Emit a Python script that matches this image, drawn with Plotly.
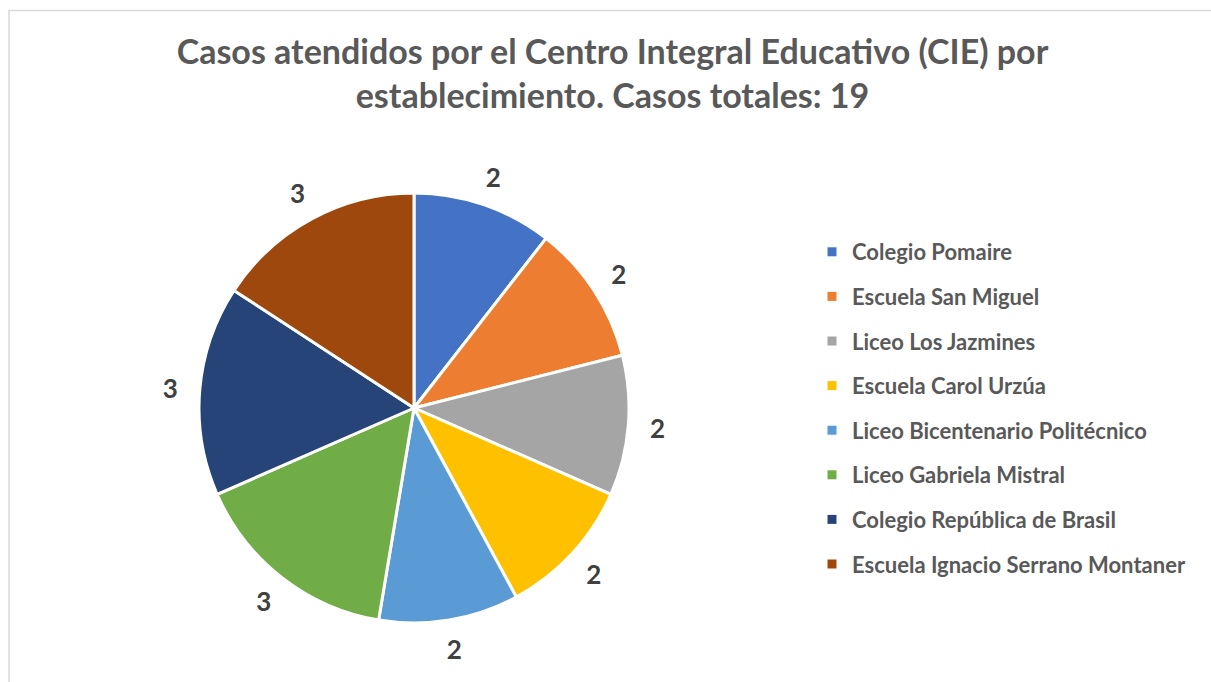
import plotly.graph_objects as go

# ---- data ----
categories = [
    "Colegio Pomaire",
    "Escuela San Miguel",
    "Liceo Los Jazmines",
    "Escuela Carol Urzúa",
    "Liceo Bicentenario Politécnico",
    "Liceo Gabriela Mistral",
    "Colegio República de Brasil",
    "Escuela Ignacio Serrano Montaner",
]
casos = [2, 2, 2, 2, 2, 3, 3, 3]
colors = ["#4472C4", "#ED7D31", "#A5A5A5", "#FFC000",
          "#5B9BD5", "#70AD47", "#264478", "#9E480E"]

W, H = 1211, 682
FONT = "Lato"

# pie geometry (pixels)
cx, cy = 414, 408          # centre, from top-left
r_pie = 215
r_ring = H - cy            # outer radius of the invisible label ring

def dom(r):
    return dict(x=[(cx - r) / W, (cx + r) / W],
                y=[max(0, (H - cy - r) / H), (H - cy + r) / H])

fig = go.Figure()

# main pie
fig.add_trace(go.Pie(
    labels=categories, values=casos, sort=False, direction="clockwise",
    rotation=0, marker=dict(colors=colors, line=dict(color="white", width=3)),
    textinfo="none", showlegend=False, domain=dom(r_pie), hoverinfo="label+value",
))

# invisible ring that carries the value labels outside the pie
fig.add_trace(go.Pie(
    labels=categories, values=casos, sort=False, direction="clockwise",
    rotation=0, hole=r_pie / r_ring,
    marker=dict(colors=["rgba(0,0,0,0)"] * len(casos), line=dict(width=0)),
    textinfo="value", textposition="inside", insidetextorientation="horizontal",
    textfont=dict(family=FONT, size=26, color="#404040", weight="bold"),
    showlegend=False, domain=dom(r_ring), hoverinfo="skip",
))

# legend entries
for name, col in zip(categories, colors):
    fig.add_trace(go.Scatter(
        x=[None], y=[None], mode="markers", name=name, legendgroup=name,
        marker=dict(symbol="square", size=9, color=col),
    ))

total = sum(casos)
fig.update_layout(
    width=W, height=H,
    margin=dict(l=0, r=0, t=0, b=0),
    paper_bgcolor="white", plot_bgcolor="white",
    xaxis=dict(visible=False), yaxis=dict(visible=False),
    title=dict(
        text=("Casos atendidos por el Centro Integral Educativo (CIE) por<br>"
              f"establecimiento. Casos totales: {total}"),
        x=612.5 / W, xanchor="center", y=1 - 64 / H, yanchor="top",
        font=dict(family=FONT, size=34, color="#595959", weight="bold"),
    ),
    legend=dict(
        x=812 / W, xanchor="left", y=1 - 231 / H, yanchor="top",
        font=dict(family=FONT, size=22, color="#595959", weight="bold"),
        tracegroupgap=13, bgcolor="rgba(0,0,0,0)",
    ),
    shapes=[dict(type="rect", xref="paper", yref="paper",
                 x0=9 / W, x1=1.02, y0=-0.02, y1=1 - 10.5 / H,
                 line=dict(color="#D9D9D9", width=1.5))],
)

fig.write_html("out.html", config={"displayModeBar": False},
               post_script="document.body.style.margin='0';")
